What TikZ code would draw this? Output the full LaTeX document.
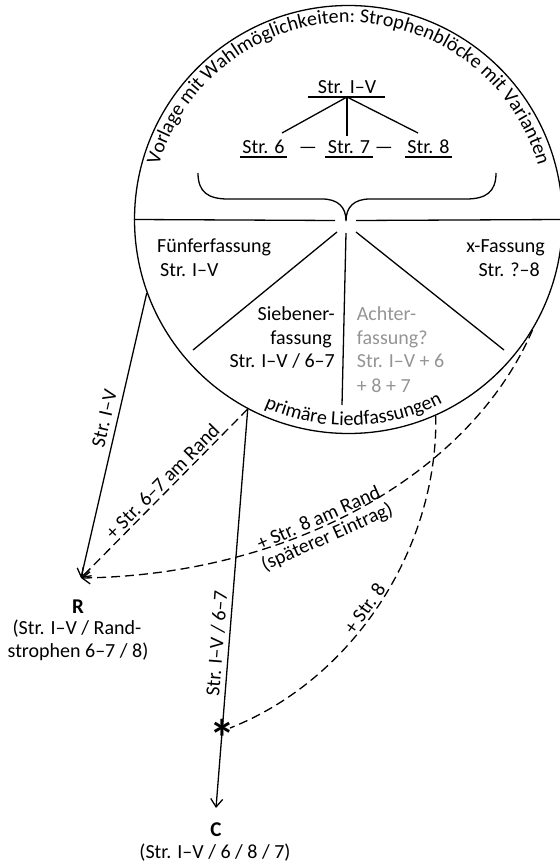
\documentclass[tikz,border=0pt]{standalone}
\usepackage{fontspec}
\setmainfont{Carlito}
\usetikzlibrary{arrows.meta,decorations.text,calc}
\begin{document}
\begin{tikzpicture}[x=1pt,y=1pt,
  every node/.style={font=\fontsize{20}{24}\selectfont, inner sep=0pt},
  ln/.style={line width=1.3pt},
  dsh/.style={line width=1.3pt, dash pattern=on 9pt off 5pt},
  arr/.style={-{Straight Barb[length=8pt,width=12pt,line width=1.3pt]}},
  gr/.style={text=black!42},
  lbl/.style={sloped, above, inner sep=2.5pt, text depth=0pt},
  sigle/.style={font=\bfseries\fontsize{21}{24}\selectfont, anchor=base},
]
\useasboundingbox (0,0) rectangle (559,-866);

% circle
\node[circle, draw, line width=1.3pt, minimum size=428pt] (circ) at (348.5,-219.5) {};

% horizontal diameter with gap
\coordinate (hl) at (335,-220.5);
\coordinate (hr) at (356,-220.5);
\draw[ln] (circ.west) -- (hl);
\draw[ln] (hr) -- (circ.east);

% brace
\coordinate (btip) at (346,-221);
\draw[ln] (198,-173) .. controls (198,-192) and (208,-199) .. (228,-199) -- (322,-199)
  .. controls (338,-199) and (346,-207) .. (btip)
  .. controls (346,-207) and (354,-199) .. (370,-199) -- (466,-199)
  .. controls (486,-199) and (496,-192) .. (496,-173);

% radial lines
\coordinate (r1a) at (337,-232); \coordinate (r1b) at (193,-350);
\coordinate (r2a) at (356,-232); \coordinate (r2b) at (504,-350);
\coordinate (r3a) at (346,-233); \coordinate (r3b) at (342,-405);
\draw[ln] (r1a) -- (r1b);
\draw[ln] (r2a) -- (r2b);
\draw[ln] (r3a) -- (r3b);

% curved texts
\path[decorate, decoration={text along path, text align=center,
  text={|\fontsize{20}{24}\selectfont|Vorlage mit Wahlm{ö}glichkeiten: Strophenbl{ö}cke mit Varianten}}]
  (circ.center) ++(172:197) arc[start angle=172, end angle=8, radius=197];
\path[decorate, decoration={text along path, text align=center,
  text={|\fontsize{20}{24}\selectfont|prim{ä}re Liedfassungen}}]
  (circ.center) ++(230:206) arc[start angle=230, end angle=313, radius=206];

% tree
\node[anchor=base] (t0) at (347,-93.5) {Str. I–V};
\node[anchor=base] (t6) at (263.5,-153.5) {Str. 6};
\node[anchor=base] (t7) at (349,-153.5) {Str. 7};
\node[anchor=base] (t8) at (428.5,-153.5) {Str. 8};
\node[anchor=base] (d1) at (308,-153.5) {—};
\node[anchor=base] (d2) at (384,-153.5) {—};
\coordinate (t0u) at (347,-97);
\draw[ln] (308,-97) -- (385,-97);
\draw[ln] (240,-157) -- (287,-157);
\draw[ln] (325,-157) -- (373,-157);
\draw[ln] (405,-157) -- (452,-157);
\coordinate (t6c) at (282,-133);
\coordinate (t7c) at (347,-136);
\coordinate (t8c) at (418,-133);
\draw[ln] (t0u) -- (t6c);
\draw[ln] (t0u) -- (t7c);
\draw[ln] (t0u) -- (t8c);

% sector texts
\node[anchor=base west] (f1) at (157,-253) {Fünferfassung};
\node[anchor=base west] (f2) at (160,-276.7) {Str. I–V};
\node[anchor=base east] (x1) at (545,-253) {x-Fassung};
\node[anchor=base east] (x2) at (540,-276.7) {Str. ?–8};
\node[anchor=base east] (s1) at (335,-320.7) {Siebener-};
\node[anchor=base east] (s2) at (332,-344) {fassung};
\node[anchor=base east] (s3) at (335,-367.3) {Str. I–V / 6–7};
\node[anchor=base west, gr] (a1) at (356.7,-320.7) {Achter-};
\node[anchor=base west, gr] (a2) at (356.7,-344) {fassung?};
\node[anchor=base west, gr] (a3) at (356.7,-367.3) {Str. I–V + 6};
\node[anchor=base west, gr] (a4) at (356.7,-392.3) {+ 8 + 7};

% sigla
\coordinate (Rtip) at (81,-578);
\node[sigle] (R) at (78,-613.5) {R};
\node[anchor=base] (Rt1) at (77,-634) {(Str. I–V / Rand-};
\node[anchor=base] (Rt2) at (78,-657) {strophen 6–7 / 8)};
\coordinate (Ctip) at (216,-808);
\node[sigle] (C) at (216,-836) {C};
\node[anchor=base] (Ct) at (215,-858) {(Str. I–V / 6 / 8 / 7)};

% connectors
\draw[ln,arr] (circ.200) -- node[lbl, inner sep=6pt, pos=0.45]{Str. I–V} (Rtip);
\draw[dsh,arr] (circ.242.2) -- node[lbl, pos=0.47]{+ Str. 6–7 am Rand} (Rtip);
\draw[ln,arr] (circ.242.2) -- node[lbl, inner sep=5pt, pos=0.59]{Str. I–V / 6–7} (Ctip);
\draw[dsh,arr] (circ.329.8) .. controls (470,-475) and (290,-575) ..
  node[lbl, pos=0.58]{+ Str. 8 am Rand}
  node[sloped, below, inner sep=2pt, pos=0.58]{(späterer Eintrag)} (Rtip);

% asterisk
\node[font=\bfseries\fontsize{52}{52}\selectfont, anchor=base] (ast) at (222,-756) {*};
\coordinate (astR) at (230,-728);
\draw[dsh] (circ.294) .. controls (438,-550) and (352,-680) ..
  node[lbl, pos=0.53]{+ Str. 8} (astR);
\end{tikzpicture}
\end{document}
